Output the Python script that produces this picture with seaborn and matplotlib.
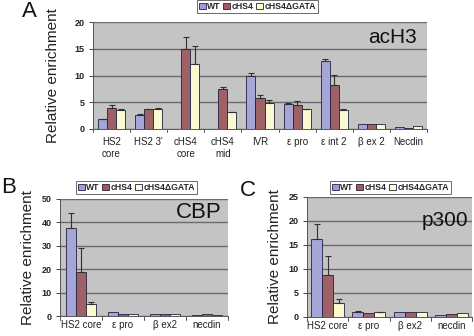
import numpy as np
import pandas as pd
import matplotlib
matplotlib.use("Agg")
import matplotlib.pyplot as plt
import seaborn as sns

# ---- data -------------------------------------------------------------
series = ["WT", "cHS4", "cHS4\u0394GATA"]
colors = ["#9c9ce0", "#a8575e", "#ffffcc"]

a_categories = ["HS2\ncore", "HS2 3'", "cHS4\ncore", "cHS4\nmid", "IVR",
                "\u03b5 pro", "\u03b5 int 2", "\u03b2 ex 2", "Necdin"]
a_wt = [1.8, 2.7, np.nan, np.nan, 10.0, 4.7, 12.8, 1.0, 0.3]
a_chs4 = [3.9, 3.7, 14.9, 7.4, 5.8, 4.4, 8.2, 1.0, 0.2]
a_gata = [3.6, 3.8, 12.1, 3.1, 4.9, 3.7, 3.6, 1.0, 0.5]
a_wt_err = [0.15, 0.1, 0, 0, 0.5, 0.1, 0.3, 0, 0]
a_chs4_err = [0.5, 0.1, 2.3, 0.5, 0.5, 0.9, 1.9, 0, 0]
a_gata_err = [0.2, 0.2, 3.5, 0.15, 0.6, 0.1, 0.15, 0, 0]

b_categories = ["HS2 core", "\u03b5 pro", "\u03b2 ex2", "necdin"]
b_wt = [37.5, 1.5, 1.0, 0.4]
b_chs4 = [19.0, 1.0, 1.0, 0.7]
b_gata = [5.0, 0.8, 1.0, 0.4]
b_wt_err = [6.5, 0, 0, 0]
b_chs4_err = [10.0, 0, 0, 0]
b_gata_err = [1.0, 0, 0, 0]

c_categories = ["HS2 core", "\u03b5 pro", "\u03b2 ex2", "necdin"]
c_wt = [16.3, 1.1, 1.0, 0.5]
c_chs4 = [8.8, 0.8, 1.0, 0.6]
c_gata = [3.0, 1.0, 1.0, 0.8]
c_wt_err = [3.0, 0.1, 0, 0]
c_chs4_err = [4.0, 0, 0, 0]
c_gata_err = [0.8, 0.1, 0, 0]

sns.set_theme(style="white")
plt.rcParams["font.family"] = ["Liberation Sans", "DejaVu Sans"]

W, H = 474, 336
fig = plt.figure(figsize=(W / 100, H / 100), dpi=100)


def px_rect(left, top, right, bottom):
    return [left / W, 1 - bottom / H, (right - left) / W, (bottom - top) / H]


def panel(rect, cats, vals, errs, ymax, ystep, name, name_pos, name_fs,
          letter, letter_xy, legend_xy, bar_width, xpad, ylabel_x):
    ax = fig.add_axes(rect)
    rows = []
    for s, v in zip(series, vals):
        for c, y in zip(cats, v):
            rows.append({"cat": c, "series": s, "val": y})
    df = pd.DataFrame(rows)
    sns.barplot(data=df, x="cat", y="val", hue="series", order=cats,
                hue_order=series, palette=colors, width=bar_width,
                edgecolor="#202040", linewidth=0.6, errorbar=None, ax=ax,
                legend=False, zorder=2)
    # upper error bars, placed from each drawn bar
    for cont, err in zip(ax.containers, errs):
        for bar in cont:
            h = bar.get_height()
            if not np.isfinite(h) or h == 0:
                continue
            xc = bar.get_x() + bar.get_width() / 2
            e = err[int(round(xc))]
            if e > 0:
                ax.errorbar(xc, h, yerr=[[0], [e]], fmt="none",
                            ecolor="#303030", elinewidth=0.8, capsize=2.2,
                            capthick=0.8, zorder=3)
    ax.set_facecolor("#c4c4c4")
    ax.set_ylim(0, ymax)
    ax.set_xlim(-0.5, len(cats) - 0.5)
    ticks = np.arange(0, ymax + 0.1, ystep)
    ax.set_yticks(ticks)
    ax.set_yticklabels([f"{int(t)}" for t in ticks], fontsize=6.5,
                       fontweight="bold", color="#222222")
    ax.yaxis.grid(True, color="#6a6a6a", linewidth=1.0, zorder=0)
    ax.set_axisbelow(True)
    ax.set_xticks(range(len(cats)))
    ax.set_xticklabels(cats, fontsize=7, color="#222222")
    ax.tick_params(axis="x", length=0, pad=xpad)
    ax.tick_params(axis="y", length=3, width=0.7, color="#444444", pad=3,
                   left=True)
    # group separator ticks below the x axis
    for b in np.arange(-0.5, len(cats), 1.0):
        ax.plot([b, b], [0, -0.03 * ymax], color="#555555", lw=0.7,
                clip_on=False)
    for sp in ["top", "right"]:
        ax.spines[sp].set_visible(False)
    for sp in ["left", "bottom"]:
        ax.spines[sp].set_color("#555555")
        ax.spines[sp].set_linewidth(0.7)
    ax.set_xlabel("")
    ax.set_ylabel("Relative enrichment", fontsize=11, color="#222222")
    ax.yaxis.set_label_coords(ylabel_x, 0.5)
    ax.text(name_pos[0], name_pos[1], name, transform=ax.transAxes,
            ha="right", va="baseline", fontsize=name_fs, color="#111111")
    fig.text(letter_xy[0] / W, 1 - letter_xy[1] / H, letter, fontsize=16,
             ha="left", va="baseline", color="#111111")
    handles = [plt.Rectangle((0, 0), 1, 1, facecolor=c, edgecolor="#202040",
                             linewidth=0.6) for c in colors]
    leg = fig.legend(handles, series, loc="upper left",
                     bbox_to_anchor=(legend_xy[0] / W, 1 - legend_xy[1] / H),
                     ncol=3, fontsize=6.2, frameon=True, handlelength=0.8,
                     handleheight=0.8, handletextpad=0.15, columnspacing=0.3,
                     borderpad=0.25, borderaxespad=0, fancybox=False)
    leg.get_frame().set_edgecolor("#444444")
    leg.get_frame().set_linewidth(0.7)
    for t in leg.get_texts():
        t.set_fontweight("bold")
    return ax


panel(px_rect(93, 22, 427, 129), a_categories,
      [a_wt, a_chs4, a_gata], [a_wt_err, a_chs4_err, a_gata_err],
      20, 5, "acH3", (0.97, 0.80), 15, "A", (22, 17), (197, 0), 0.73, 6,
      -0.099)
panel(px_rect(60, 199, 228, 316), b_categories,
      [b_wt, b_chs4, b_gata], [b_wt_err, b_chs4_err, b_gata_err],
      50, 10, "CBP", (0.964, 0.84), 16, "B", (1, 193), (76, 181), 0.70, 3,
      -0.149)
panel(px_rect(307, 197, 472, 317), c_categories,
      [c_wt, c_chs4, c_gata], [c_wt_err, c_chs4_err, c_gata_err],
      25, 5, "p300", (0.976, 0.76), 15, "C", (240, 196), (330, 181), 0.80, 3,
      -0.152)

fig.savefig("out.png", dpi=100)
